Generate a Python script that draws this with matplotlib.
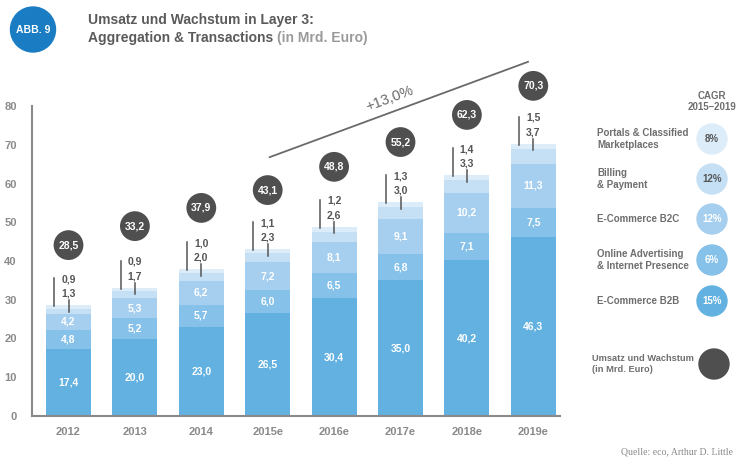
import matplotlib
matplotlib.use("Agg")
import matplotlib.pyplot as plt
from matplotlib.patches import Circle
import numpy as np

plt.rcParams['font.family'] = ['Liberation Sans', 'DejaVu Sans']

# ---------------- data ----------------
years = ["2012", "2013", "2014", "2015e", "2016e", "2017e", "2018e", "2019e"]
ecom_b2b = [17.4, 20.0, 23.0, 26.5, 30.4, 35.0, 40.2, 46.3]
online_adv = [4.8, 5.2, 5.7, 6.0, 6.5, 6.8, 7.1, 7.5]
ecom_b2c = [4.2, 5.3, 6.2, 7.2, 8.1, 9.1, 10.2, 11.3]
billing = [1.3, 1.7, 2.0, 2.3, 2.6, 3.0, 3.3, 3.7]
portals = [0.9, 0.9, 1.0, 1.1, 1.2, 1.3, 1.4, 1.5]
totals = [28.5, 33.2, 37.9, 43.1, 48.8, 55.2, 62.3, 70.3]

legend_names = ["Portals & Classified\nMarketplaces", "Billing\n& Payment",
                "E-Commerce B2C", "Online Advertising\n& Internet Presence",
                "E-Commerce B2B"]
cagr = ["8%", "12%", "12%", "6%", "15%"]
trend_label = "+13,0%"

# ---------------- styles / layout ----------------
c_b2b = "#62b1e1"
c_adv = "#86c1ea"
c_b2c = "#a6cfef"
c_bill = "#c5e0f5"
c_port = "#dcecf9"
c_dark = "#4f4f4f"
c_gray = "#8a8a8a"
c_txt = "#6e6e6e"
bubble_y = [44.1, 49.0, 53.7, 58.3, 64.3, 70.7, 77.7, 85.2]

def fmt(v):
    return f"{v:.1f}".replace(".", ",")

W, H = 740, 461
fig = plt.figure(figsize=(W / 100, H / 100), dpi=100)

ax_l, ax_r, ax_t, ax_b = 32, 560, 106, 416
ax = fig.add_axes([ax_l / W, 1 - ax_b / H, (ax_r - ax_l) / W, (ax_b - ax_t) / H])

x = np.arange(len(years))
bw = 0.68
series = [ecom_b2b, online_adv, ecom_b2c, billing, portals]
colors = [c_b2b, c_adv, c_b2c, c_bill, c_port]
bottom = np.zeros(len(years))
for vals, col in zip(series, colors):
    ax.bar(x, vals, bw, bottom=bottom, color=col, edgecolor="none", zorder=2)
    bottom = bottom + np.array(vals)

# labels inside bars
bottom = np.zeros(len(years))
for vals in series[:3]:
    for i, v in enumerate(vals):
        ax.text(x[i], bottom[i] + v / 2, fmt(v), ha="center", va="center",
                color="white", fontsize=7.5, fontweight="bold", zorder=4)
    bottom = bottom + np.array(vals)

stack_top = bottom + np.array(billing) + np.array(portals)
for i in range(len(years)):
    top = stack_top[i]
    # billing label + short leader
    ax.text(x[i], top + 2.9, fmt(billing[i]), ha="center", va="center",
            color="#555555", fontsize=7.5, fontweight="bold", zorder=4)
    ax.plot([x[i], x[i]], [top - 1.7, top + 1.3], color="#555555", lw=1.1, zorder=3)
    # portals label + long leader
    ax.text(x[i], top + 6.7, fmt(portals[i]), ha="center", va="center",
            color="#555555", fontsize=7.5, fontweight="bold", zorder=4)
    ax.plot([x[i] - 0.215, x[i] - 0.215], [top - 0.3, top + 6.9], color="#555555",
            lw=1.1, zorder=3)
    # total bubble
    ax.scatter([x[i]], [bubble_y[i]], s=460, color=c_dark, zorder=5, clip_on=False,
               edgecolors="none")
    ax.text(x[i], bubble_y[i], fmt(totals[i]), ha="center", va="center",
            color="white", fontsize=7.5, fontweight="bold", zorder=6, clip_on=False)

# trend line
ax.plot([3.03, 6.92], [66.8, 91.4], color="#6a6a6a", lw=1.3, clip_on=False, zorder=3)
ax.text(4.84, 81.8, trend_label, rotation=20.5, ha="center", va="center",
        color="#6a6a6a", fontsize=10.5, rotation_mode="anchor")

ax.set_xlim((ax_l - 68.5) / 66.4, (ax_r - 68.5) / 66.4)
ax.set_ylim(0, 80)
ax.set_yticks([0, 10, 20, 30, 40, 50, 60, 70, 80])
ax.set_xticks(x)
ax.set_xticklabels(years)
for s in ["top", "right"]:
    ax.spines[s].set_visible(False)
for s in ["left", "bottom"]:
    ax.spines[s].set_color(c_gray)
    ax.spines[s].set_linewidth(1.5)
ax.tick_params(length=0, colors=c_gray, labelsize=8)
ax.tick_params(axis="y", pad=11)
ax.tick_params(axis="x", pad=8)
for lab in ax.get_xticklabels() + ax.get_yticklabels():
    lab.set_fontweight("bold")
    lab.set_color(c_gray)

# ---------------- overlay in pixel coords ----------------
ov = fig.add_axes([0, 0, 1, 1])
ov.set_xlim(0, W)
ov.set_ylim(H, 0)
ov.axis("off")
ov.set_zorder(-1)
ov.patch.set_alpha(0)

# header
ov.add_patch(Circle((33, 29.5), 22.5, color="#1a7dc3"))
ov.text(33, 30, "ABB. 9", ha="center", va="center", color="white",
        fontsize=7.5, fontweight="bold")
ov.text(88, 20, "Umsatz und Wachstum in Layer 3:", ha="left", va="center",
        color="#5a5a5a", fontsize=10, fontweight="bold")
t = ov.text(88, 38, "Aggregation & Transactions ", ha="left", va="center",
            color="#5a5a5a", fontsize=10, fontweight="bold")
ov.annotate("(in Mrd. Euro)", xycoords=t, xy=(1, 0.5), va="center", ha="left",
            color="#9a9a9a", fontsize=10, fontweight="bold")

# legend
ov.text(712, 96, "CAGR", ha="center", va="center", color=c_txt, fontsize=7,
        fontweight="bold")
ov.text(712, 107, "2015\u20132019", ha="center", va="center", color=c_txt,
        fontsize=7, fontweight="bold")
leg_cols = [c_port, c_bill, c_b2c, c_adv, c_b2b]
leg_txtcol = ["#555555", "#555555", "white", "white", "white"]
leg_y = [139, 179, 219, 260, 301]
for name, val, col, tc, yy in zip(legend_names, cagr, leg_cols, leg_txtcol, leg_y):
    ov.add_patch(Circle((712, yy), 15, color=col))
    ov.text(712, yy, val, ha="center", va="center", color=tc, fontsize=7,
            fontweight="bold")
    ov.text(597, yy, name, ha="left", va="center", color=c_txt, fontsize=7,
            fontweight="bold", linespacing=1.25)
ov.add_patch(Circle((714, 364), 15, color=c_dark))
ov.text(592, 364, "Umsatz und Wachstum\n(in Mrd. Euro)", ha="left", va="center",
        color=c_txt, fontsize=6.7, fontweight="bold", linespacing=1.25)

ov.text(733, 452, "Quelle: eco, Arthur D. Little", ha="right", va="center",
        color="#8a8a8a", fontsize=7, family=["Liberation Serif", "DejaVu Serif"])

fig.savefig("out.png", dpi=100)
